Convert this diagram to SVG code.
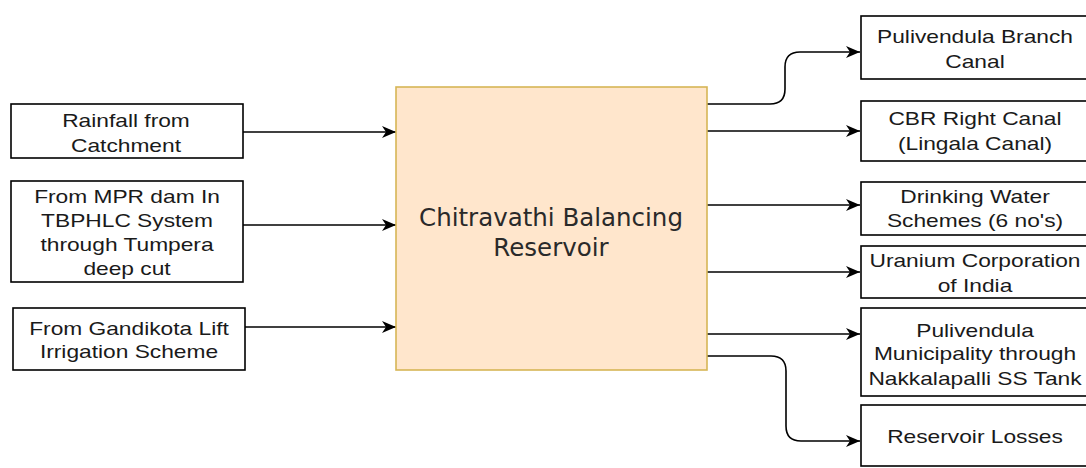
<svg xmlns="http://www.w3.org/2000/svg" width="1086" height="468" viewBox="0 0 1086 468">
  <defs>
    <style>
      .box { fill: #ffffff; stroke: #000000; stroke-width: 1.6; }
      .main { fill: #ffe6cc; stroke: #d6b656; stroke-width: 1.6; }
      .lbl { font-family: "Liberation Sans", Arial, sans-serif; font-size: 18.5px; fill: #1a1a1a; text-anchor: middle; }
      .title { font-family: "DejaVu Sans", Verdana, sans-serif; font-size: 24.5px; fill: #2a2a2a; text-anchor: middle; }
      .edge { fill: none; stroke: #000000; stroke-width: 1.6; }
    </style>
    <marker id="arrow" markerWidth="16" markerHeight="14" refX="14" refY="6" orient="auto" markerUnits="userSpaceOnUse">
      <path d="M0,0 L14,6 L0,12 L4,6 Z" fill="#000000"/>
    </marker>
  </defs>

  <rect width="1086" height="468" fill="#ffffff"/>

  <!-- connectors -->
  <g id="connectors">
    <path class="edge" d="M243,132 L396,132" marker-end="url(#arrow)"/>
    <path class="edge" d="M243,225 L396,225" marker-end="url(#arrow)"/>
    <path class="edge" d="M245,327 L396,327" marker-end="url(#arrow)"/>

    <path class="edge" d="M707,104 L770,104 Q785,104 785,89 L785,67 Q785,52 800,52 L860,52" marker-end="url(#arrow)"/>
    <path class="edge" d="M707,131 L860,131" marker-end="url(#arrow)"/>
    <path class="edge" d="M707,205 L860,205" marker-end="url(#arrow)"/>
    <path class="edge" d="M707,272 L860,272" marker-end="url(#arrow)"/>
    <path class="edge" d="M707,334 L860,334" marker-end="url(#arrow)"/>
    <path class="edge" d="M707,356 L771,356 Q786,356 786,371 L786,426 Q786,441 801,441 L860,441" marker-end="url(#arrow)"/>
  </g>

  <!-- inflows -->
  <g id="rainfall">
    <rect class="box" x="11" y="104" width="232" height="54"/>
    <g transform="translate(126,0) scale(1.23,1)">
      <text class="lbl" x="0" y="127">Rainfall from</text>
      <text class="lbl" x="0" y="152">Catchment</text>
    </g>
  </g>

  <g id="mpr-dam">
    <rect class="box" x="11" y="181" width="232" height="101"/>
    <g transform="translate(127,0) scale(1.23,1)">
      <text class="lbl" x="0" y="203">From MPR dam In</text>
      <text class="lbl" x="0" y="227">TBPHLC System</text>
      <text class="lbl" x="0" y="251">through Tumpera</text>
      <text class="lbl" x="0" y="275">deep cut</text>
    </g>
  </g>

  <g id="gandikota">
    <rect class="box" x="13" y="308" width="232" height="62"/>
    <g transform="translate(129,0) scale(1.23,1)">
      <text class="lbl" x="0" y="335">From Gandikota Lift</text>
      <text class="lbl" x="0" y="358">Irrigation Scheme</text>
    </g>
  </g>

  <!-- reservoir -->
  <g id="reservoir">
    <rect class="main" x="396" y="87" width="311" height="283"/>
    <text class="title" x="551" y="226">Chitravathi Balancing</text>
    <text class="title" x="551" y="256">Reservoir</text>
  </g>

  <!-- outflows -->
  <g id="pulivendula-branch">
    <rect class="box" x="861" y="16" width="230" height="63"/>
    <g transform="translate(975,0) scale(1.23,1)">
      <text class="lbl" x="0" y="43">Pulivendula Branch</text>
      <text class="lbl" x="0" y="68">Canal</text>
    </g>
  </g>

  <g id="cbr-right">
    <rect class="box" x="861" y="101" width="230" height="60"/>
    <g transform="translate(975,0) scale(1.23,1)">
      <text class="lbl" x="0" y="125">CBR Right Canal</text>
      <text class="lbl" x="0" y="150">(Lingala Canal)</text>
    </g>
  </g>

  <g id="drinking-water">
    <rect class="box" x="861" y="182" width="230" height="53"/>
    <g transform="translate(975,0) scale(1.23,1)">
      <text class="lbl" x="0" y="203">Drinking Water</text>
      <text class="lbl" x="0" y="227">Schemes (6 no's)</text>
    </g>
  </g>

  <g id="uranium">
    <rect class="box" x="861" y="246" width="230" height="52"/>
    <g transform="translate(975,0) scale(1.23,1)">
      <text class="lbl" x="0" y="267">Uranium Corporation</text>
      <text class="lbl" x="0" y="292">of India</text>
    </g>
  </g>

  <g id="municipality">
    <rect class="box" x="861" y="308" width="230" height="88"/>
    <g transform="translate(975,0) scale(1.23,1)">
      <text class="lbl" x="0" y="337">Pulivendula</text>
      <text class="lbl" x="0" y="360">Municipality through</text>
      <text class="lbl" x="0" y="385">Nakkalapalli SS Tank</text>
    </g>
  </g>

  <g id="losses">
    <rect class="box" x="861" y="405" width="230" height="61"/>
    <g transform="translate(975,0) scale(1.23,1)">
      <text class="lbl" x="0" y="443">Reservoir Losses</text>
    </g>
  </g>
</svg>
